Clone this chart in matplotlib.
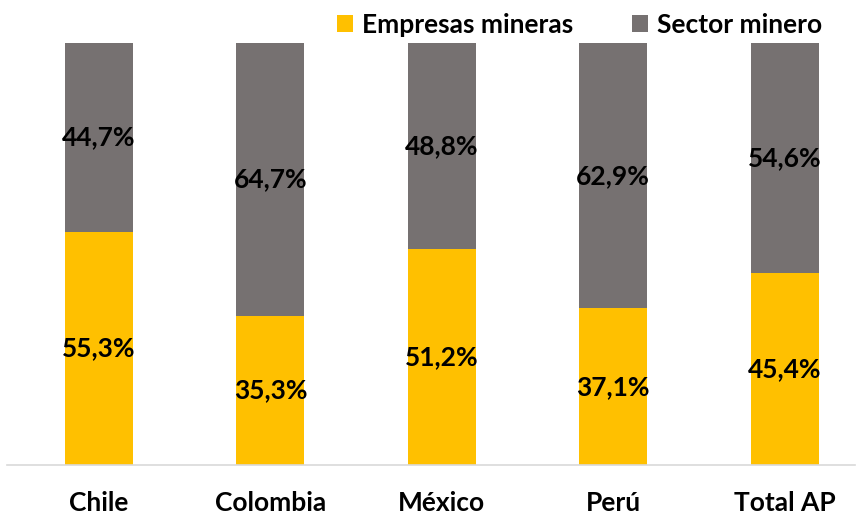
import numpy as np
import matplotlib.pyplot as plt

paises = ['Chile', 'Colombia', 'México', 'Perú', 'Total AP']
empresas = [55.3, 35.3, 51.2, 37.1, 45.4]
sector = [44.7, 64.7, 48.8, 62.9, 54.6]

amarillo = '#FFC000'
gris = '#767171'

plt.rcParams['font.family'] = ['Lato', 'DejaVu Sans']
plt.rcParams['font.weight'] = 'bold'

W, H = 861, 515
fig = plt.figure(figsize=(W / 100, H / 100), dpi=100)
ax = fig.add_axes([7 / W, 50 / H, 848 / W, 422 / H])

x = np.arange(len(paises))
ancho = 0.397
b1 = ax.bar(x, empresas, ancho, color=amarillo, label='Empresas mineras')
b2 = ax.bar(x, sector, ancho, bottom=empresas, color=gris, label='Sector minero')

for i in range(len(paises)):
    ax.text(x[i], empresas[i] / 2, f'{empresas[i]:.1f}%'.replace('.', ','),
            ha='center', va='center', fontsize=19, fontweight='bold')
    ax.text(x[i], empresas[i] + sector[i] / 2, f'{sector[i]:.1f}%'.replace('.', ','),
            ha='center', va='center', fontsize=19, fontweight='bold')

ax.set_xlim(-0.537, 4.411)
ax.set_ylim(0, 100)
ax.set_xticks(x)
ax.set_xticklabels(paises, fontsize=19, fontweight='bold')
ax.tick_params(axis='x', length=0, pad=19)
ax.set_yticks([])
for lado in ['top', 'right', 'left']:
    ax.spines[lado].set_visible(False)
ax.spines['bottom'].set_color('#D9D9D9')
ax.spines['bottom'].set_linewidth(1.2)

fig.legend(handles=[b1, b2], loc='center right', bbox_to_anchor=(822 / W, 1 - 25 / H),
           ncol=2, frameon=False, fontsize=19, handlelength=0.6, handleheight=0.6,
           columnspacing=2.2, handletextpad=0.35, borderpad=0, borderaxespad=0)

fig.savefig('out.png', dpi=100)
